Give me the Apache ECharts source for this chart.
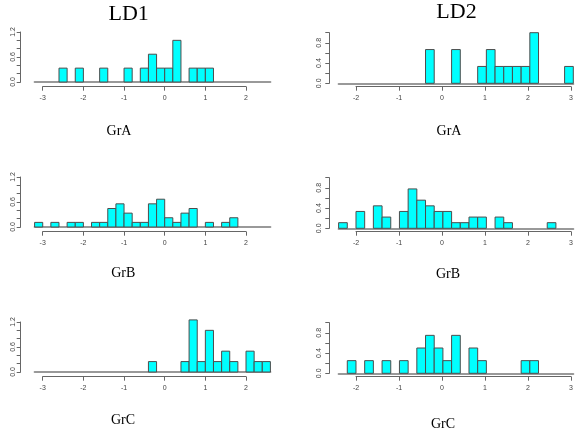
<!DOCTYPE html>
<html>
<head>
<meta charset="utf-8">
<script src="https://cdn.jsdelivr.net/npm/echarts@6/dist/echarts.min.js"></script>
<style>html,body{margin:0;padding:0;background:#fff;}#c{width:576px;height:434px;}</style>
</head>
<body>
<div id="c"></div>
<script>
// ---- data: histogram bins (left edge) and densities ----
var binWidth = 0.2;
var ld1Range = [-3.2, 2.6];
var ld2Range = [-2.4, 3.0];
var ld1Ticks = [-3, 2];
var ld2Ticks = [-2, 3];
var ld1YMax = 1.2, ld2YMax = 1.0;
var ld1YLabels = [0, 0.6, 1.2];
var ld2YLabels = [0, 0.4, 0.8];
var colTitles = ['LD1', 'LD2'];
var groupNames = ['GrA', 'GrB', 'GrC'];

var ld1GrA_bins = [-2.6, -2.2, -1.6, -1.0, -0.6, -0.4, -0.2, 0.0, 0.2, 0.6, 0.8, 1.0];
var ld1GrA_dens = [0.333, 0.333, 0.333, 0.333, 0.333, 0.667, 0.333, 0.333, 1.0, 0.333, 0.333, 0.333];

var ld2GrA_bins = [-0.4, 0.2, 0.8, 1.0, 1.2, 1.4, 1.6, 1.8, 2.0, 2.8];
var ld2GrA_dens = [0.667, 0.667, 0.333, 0.667, 0.333, 0.333, 0.333, 0.333, 1.0, 0.333];

var ld1GrB_bins = [-3.2, -2.8, -2.4, -2.2, -1.8, -1.6, -1.4, -1.2, -1.0, -0.8, -0.6, -0.4, -0.2, 0.0, 0.2, 0.4, 0.6, 1.0, 1.4, 1.6];
var ld1GrB_dens = [0.111, 0.111, 0.111, 0.111, 0.111, 0.111, 0.444, 0.556, 0.333, 0.111, 0.111, 0.556, 0.667, 0.222, 0.111, 0.333, 0.444, 0.111, 0.111, 0.222];

var ld2GrB_bins = [-2.4, -2.0, -1.6, -1.4, -1.0, -0.8, -0.6, -0.4, -0.2, 0.0, 0.2, 0.4, 0.6, 0.8, 1.2, 1.4, 2.4];
var ld2GrB_dens = [0.111, 0.333, 0.444, 0.222, 0.333, 0.778, 0.556, 0.444, 0.333, 0.333, 0.111, 0.111, 0.222, 0.222, 0.222, 0.111, 0.111];

var ld1GrC_bins = [-0.4, 0.4, 0.6, 0.8, 1.0, 1.2, 1.4, 1.6, 2.0, 2.2, 2.4];
var ld1GrC_dens = [0.25, 0.25, 1.25, 0.25, 1.0, 0.25, 0.5, 0.25, 0.5, 0.25, 0.25];

var ld2GrC_bins = [-2.2, -1.8, -1.4, -1.0, -0.6, -0.4, -0.2, 0.0, 0.2, 0.6, 0.8, 1.8, 2.0];
var ld2GrC_dens = [0.25, 0.25, 0.25, 0.25, 0.5, 0.75, 0.5, 0.25, 0.75, 0.5, 0.25, 0.25, 0.25];

// ---- layout ----
var panels = [
  {bins: ld1GrA_bins, dens: ld1GrA_dens, col: 0, row: 0},
  {bins: ld2GrA_bins, dens: ld2GrA_dens, col: 1, row: 0},
  {bins: ld1GrB_bins, dens: ld1GrB_dens, col: 0, row: 1},
  {bins: ld2GrB_bins, dens: ld2GrB_dens, col: 1, row: 1},
  {bins: ld1GrC_bins, dens: ld1GrC_dens, col: 0, row: 2},
  {bins: ld2GrC_bins, dens: ld2GrC_dens, col: 1, row: 2}
];
var colLayout = [
  {left: 34.6, width: 235.8, tickLeft: 42.7, tickWidth: 203.3, height: 50, yOffset: 13.9, yMargin: 4,
   range: ld1Range, ticks: ld1Ticks, ymax: ld1YMax, ylabels: ld1YLabels, tops: [32, 177, 322]},
  {left: 338.6, width: 234.7, tickLeft: 356, tickWidth: 217.3, height: 50.6, yOffset: 9.3, yMargin: 7,
   range: ld2Range, ticks: ld2Ticks, ymax: ld2YMax, ylabels: ld2YLabels, tops: [32.7, 177.7, 322.7]}
];
var tickLineY = [86.7, 231.7, 376.7];
var axisColor = '#666';
var labelStyle = {fontSize: 7, color: '#444', fontFamily: 'Liberation Sans, Arial, sans-serif'};

var grid = [], xAxis = [], yAxis = [], series = [];
panels.forEach(function (p, i) {
  var L = colLayout[p.col];
  var top = L.tops[p.row];
  // main grid
  grid.push({left: L.left, top: top, width: L.width, height: L.height});
  var gi = grid.length - 1;
  xAxis.push({gridIndex: gi, type: 'value', min: L.range[0], max: L.range[1],
    axisLine: {show: true, onZero: false, lineStyle: {color: '#999', width: 2}},
    axisTick: {show: false}, axisLabel: {show: false}, splitLine: {show: false}});
  var ylabs = L.ylabels;
  yAxis.push({gridIndex: gi, type: 'value', min: 0, max: L.ymax, interval: 0.2, offset: L.yOffset,
    axisLine: {show: true, onZero: false, lineStyle: {color: axisColor, width: 1}},
    axisTick: {show: true, length: 4, lineStyle: {color: axisColor}},
    splitLine: {show: false},
    axisLabel: Object.assign({rotate: 90, margin: L.yMargin, showMaxLabel: true, showMinLabel: true,
      formatter: function (v) {
        for (var k = 0; k < ylabs.length; k++) { if (Math.abs(v - ylabs[k]) < 1e-6) return ylabs[k].toFixed(1); }
        return '';
      }}, labelStyle)});
  var data = p.bins.map(function (b, k) { return [b, p.dens[k]]; });
  series.push({type: 'custom', xAxisIndex: gi, yAxisIndex: gi, clip: false, data: data, z: 3,
    renderItem: function (params, api) {
      var x0 = api.value(0), h = api.value(1);
      var a = api.coord([x0, 0]);
      var b = api.coord([x0 + binWidth, h]);
      return {type: 'rect', shape: {x: a[0], y: b[1], width: b[0] - a[0], height: a[1] - b[1]},
        style: {fill: '#00FFFF', stroke: '#4d4d4d', lineWidth: 1}};
    }});
  // tick axis grid
  var ly = tickLineY[p.row];
  grid.push({left: L.tickLeft, top: ly - 10, width: L.tickWidth, height: 10});
  var ti = grid.length - 1;
  xAxis.push({gridIndex: ti, type: 'value', min: L.ticks[0], max: L.ticks[1], interval: 1,
    axisLine: {show: true, onZero: false, lineStyle: {color: axisColor, width: 1}},
    axisTick: {show: true, length: 4, lineStyle: {color: axisColor}},
    splitLine: {show: false},
    axisLabel: Object.assign({margin: 8, showMaxLabel: true, showMinLabel: true}, labelStyle)});
  yAxis.push({gridIndex: ti, type: 'value', show: false, min: 0, max: 1});
});

var serif = 'Liberation Serif, Times New Roman, serif';
var graphic = [
  {type: 'text', x: 128.7, y: 14, style: {text: colTitles[0], font: '22px ' + serif, fill: '#000', textAlign: 'center', textVerticalAlign: 'middle'}},
  {type: 'text', x: 456.5, y: 12, style: {text: colTitles[1], font: '22px ' + serif, fill: '#000', textAlign: 'center', textVerticalAlign: 'middle'}}
];
var grpPos = [[[119, 131], [449, 131.5]], [[123.3, 273], [448, 274]], [[123, 420], [443, 424]]];
groupNames.forEach(function (g, r) {
  grpPos[r].forEach(function (pos) {
    graphic.push({type: 'text', x: pos[0], y: pos[1], style: {text: g, font: '14px ' + serif, fill: '#000', textAlign: 'center', textVerticalAlign: 'middle'}});
  });
});

var chart = echarts.init(document.getElementById('c'), null, {renderer: 'canvas'});
chart.setOption({animation: false, backgroundColor: '#fff', grid: grid, xAxis: xAxis, yAxis: yAxis, series: series, graphic: graphic});
</script>
</body>
</html>
